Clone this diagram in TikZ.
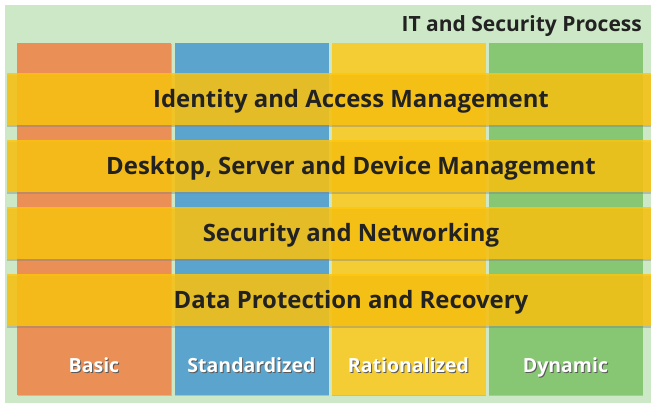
\documentclass[tikz,border=0pt]{standalone}
\usepackage{fontspec}
\setmainfont{Open Sans}
\usetikzlibrary{shadows}
\definecolor{bggreen}{HTML}{CCE8C6}
\definecolor{basic}{HTML}{EA8F56}
\definecolor{standard}{HTML}{5BA4CE}
\definecolor{rational}{HTML}{F3CD33}
\definecolor{dynamic}{HTML}{87C774}
\definecolor{bandfill}{HTML}{FFC50A}
\definecolor{ink}{HTML}{222222}
\newcommand{\whitelabel}[1]{\leavevmode\rlap{\hspace{1pt}\raisebox{-1pt}{\color{black!65}#1}}\color{white}#1}
\tikzstyle{column}=[rectangle, inner sep=0pt, minimum width=154, minimum height=352,
  drop shadow={shadow xshift=0.8pt, shadow yshift=-1pt, opacity=0.35}]
\tikzstyle{level}=[font=\fontsize{19.5}{22}\selectfont\bfseries, anchor=base]
\tikzstyle{band}=[rectangle, inner sep=0pt, minimum width=688, minimum height=52,
  fill=bandfill, fill opacity=0.82, text opacity=1, text=ink,
  font=\fontsize{23.9}{28}\selectfont\bfseries, text height=17pt, text depth=0pt,
  drop shadow={shadow xshift=0pt, shadow yshift=-2pt, opacity=0.4}]

\begin{document}
\begin{tikzpicture}[x=1pt,y=-1pt]
	\useasboundingbox (0,0) rectangle (651,405);
	\fill[white] (0,0) rectangle (651,405);
	\node[rectangle, fill=bggreen, inner sep=0pt, minimum width=660, minimum height=398, anchor=north west] (bg) at (5,5) {};
	\node[anchor=base east, text=ink, font=\fontsize{21}{24}\selectfont\bfseries, inner sep=0pt] (title) at (642,31) {IT and Security Process};
	% maturity levels
	\node[column, fill=basic] (c1) at (94,219) {};
	\node[column, fill=standard] (c2) at (251.5,219) {};
	\node[column, fill=rational] (c3) at (408.5,219) {};
	\node[column, fill=dynamic] (c4) at (565.5,219) {};
	\node[level] (l1) at (94,372) {\whitelabel{Basic}};
	\node[level] (l2) at (251.5,372) {\whitelabel{Standardized}};
	\node[level] (l3) at (408.5,372) {\whitelabel{Rationalized}};
	\node[level] (l4) at (565.5,372) {\whitelabel{Dynamic}};
	% processes
	\node[band] (b1) at (351,99) {Identity and Access Management};
	\node[band] (b2) at (351,166) {Desktop, Server and Device Management};
	\node[band] (b3) at (351,233) {Security and Networking};
	\node[band] (b4) at (351,300) {Data Protection and Recovery};
\end{tikzpicture}
\end{document}
